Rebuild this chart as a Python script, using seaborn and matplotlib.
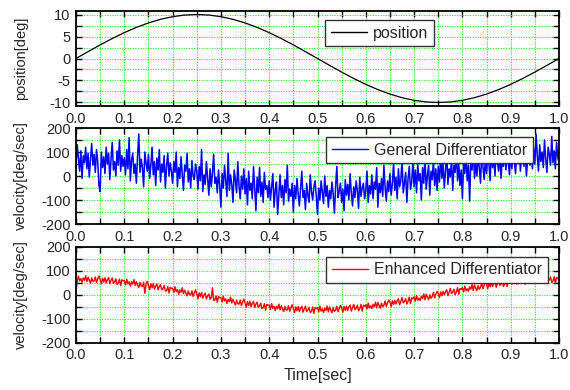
import numpy as np
import pandas as pd
import matplotlib
matplotlib.use("Agg")
import matplotlib.pyplot as plt
from matplotlib.ticker import MultipleLocator
import seaborn as sns

# ---------------- data ----------------
position_deg = [0.0, 1.56, 3.09, 4.54, 5.88, 7.07, 8.09, 8.91, 9.51, 9.88, 10.0,
                9.88, 9.51, 8.91, 8.09, 7.07, 5.88, 4.54, 3.09, 1.56, 0.0,
                -1.56, -3.09, -4.54, -5.88, -7.07, -8.09, -8.91, -9.51, -9.88, -10.0,
                -9.88, -9.51, -8.91, -8.09, -7.07, -5.88, -4.54, -3.09, -1.56, 0.0]

general_vel = [
    40, 130, 75, 20, 105, -10, 85, 55, 120, 30, 95, -5, 70, 135, 45, 90, 15, 110, 60, -40,
    -65, 100, 35, 80, 10, 120, 50, 95, -15, 70, 140, 25, 60, 0, 105, 45, 150, 20, 85, 40,
    75, 5, 110, 30, 160, -20, 65, 95, 10, 50, -30, 85, 175, 15, 70, 35, -45, 100, 55, 20,
    90, -10, 45, 120, 5, 60, -40, 75, 25, 110, -25, 50, 15, 85, -50, 40, 95, 0, 55, 20,
    -30, 60, 15, 100, -45, 35, -10, 80, 5, -60, 45, 20, 95, -25, 30, -50, 65, 0, -15, 50,
    20, -55, 40, -20, 110, -65, 5, -35, 60, -10, -80, 30, -45, 15, 90, -30, -5, -70, 25, -40,
    -130, 10, -50, 45, -20, -85, 95, -60, 5, -35, -110, 25, -15, -70, 60, -40, -95, 0, -55, 30,
    -75, -10, -120, 20, -60, -30, -95, 40, -50, -145, -5, -70, 35, -85, -25, -110, 15, -55, -40, -90,
    -20, -100, -45, 10, -130, -60, -25, -160, -75, 5, -90, -40, -120, -15, -70, 45, -105, -55, -85, -30,
    -150, -40, -95, -10, -75, -125, -50, 20, -90, -60, -140, -30, -80, -110, 5, -65, -100, -45, -20, -85,
    -160, -50, -100, -20, -70, -115, 0, -85, -40, -130, -60, -95, -25, -75, -155, -45, 40, -90, -65, -30,
    -110, -55, -145, -15, -80, -35, -100, 10, -70, -125, -45, -90, -20, -60, -135, -5, -85, -50, -30, -95,
    -60, 20, -110, -40, -75, 5, -95, -25, -55, 35, -130, -30, -70, -10, -85, 45, -50, -105, -20, -65,
    10, -80, -35, 55, -60, -5, -95, 30, -45, -20, 70, -70, -30, 15, -110, -10, 40, -55, -25, 60,
    -45, 25, -70, 50, -20, 10, -100, 35, -30, 80, -55, 0, 45, -80, 20, -15, 65, -40, 30, -60,
    40, -25, 85, -10, 55, -50, 20, 100, -35, 30, -5, 70, -60, 45, 15, 110, -20, 50, -40, 25,
    -95, 60, 10, 95, -20, 45, -105, 75, 25, 120, -10, 55, 0, 85, 35, -30, 105, 40, -15, 70,
    10, 90, 50, -20, 115, 35, 75, 0, 130, 60, 20, 95, -10, 70, 40, 120, 25, 85, 55, 5,
    100, 30, 140, 65, 10, 95, 50, 125, 20, 80, 155, 40, 105, 0, 70, 135, 45, 90, 30, 115,
    50, 175, 85, 20, 130, 60, 100, 35, 150, 70, 15, 120, 90, 45, 165, 55, 105, 30, 140, 75,
    60]

enhanced_vel = [
    10, 53, 77, 57, 66, 51, 69, 59, 78, 54, 72, 59, 48, 69, 54, 56, 73, 50, 65, 77,
    62, 44, 68, 52, 70, 48, 62, 70, 45, 59, 69, 47, 53, 65, 42, 47, 64, 37, 61, 57,
    58, 40, 64, 44, 53, 35, 53, 43, 62, 38, 53, 40, 29, 50, 35, 34, 51, 5, 43, 55,
    38, 20, 44, 28, 46, 22, 36, 44, 19, 33, 41, 19, 25, 37, 14, 16, 33, 6, 30, 26,
    26, 8, 32, 12, 21, 1, 19, 9, 28, 4, 18, 5, -6, 15, 0, -2, 15, -8, 7, 19,
    1, -17, 7, -9, 9, -16, -2, 6, -19, -5, 2, -20, -14, 28, -25, -23, -6, -33, -9, -13,
    -13, -31, -7, -27, -18, -38, -20, -30, -11, -35, -20, -33, -44, -23, -38, -40, -23, -46, -31, -19,
    -36, -54, -30, -46, -28, -51, -37, -29, -54, -40, -32, -54, -48, -36, -59, -55, -38, -65, -41, -45,
    -44, -62, -38, -58, -49, -67, -49, -59, -40, -64, -47, -60, -71, -50, -65, -64, -47, -70, -55, -43,
    -58, -76, -52, -68, -50, -71, -57, -49, -74, -60, -49, -71, -65, -53, -76, -69, -52, -79, -55, -59,
    -55, -73, -49, -69, -60, -75, -57, -67, -48, -72, -52, -65, -76, -55, -70, -66, -49, -72, -57, -45,
    -56, -74, -50, -66, -48, -66, -52, -44, -69, -55, -41, -63, -57, -45, -68, -59, -42, -69, -45, -49,
    -42, -60, -36, -56, -47, -59, -41, -51, -32, -56, -33, -46, -57, -36, -51, -44, -27, -50, -35, -23,
    -32, -50, -26, -42, -24, -40, -26, -18, -43, -29, -13, -35, -29, -17, -40, -28, -11, -38, -14, -18,
    -10, -28, -4, -24, -15, -25, -7, -17, 2, -22, 2, -11, -22, -1, -16, -8, 9, -14, 1, 13,
    5, -13, 11, -5, 13, -2, 12, 20, -5, 9, 26, 4, 10, 22, -1, 11, 28, 1, 25, 21,
    29, 11, 35, 15, 24, 14, 32, 22, 41, 17, 40, 27, 16, 37, 22, 30, 47, 24, 39, 51,
    42, 24, 48, 32, 50, 33, 47, 55, 30, 44, 60, 38, 44, 56, 33, 43, 60, 33, 57, 53,
    60, 42, 66, 46, 55, 43, 61, 51, 70, 46, 67, 54, 43, 64, 49, 54, 71, 48, 63, 75,
    64, 46, 70, 54, 72, 53, 67, 75, 50, 64, 77, 55, 61, 73, 50, 57, 74, 47, 71, 67,
    60]

x_ticks = [0.0, 0.1, 0.2, 0.3, 0.4, 0.5, 0.6, 0.7, 0.8, 0.9, 1.0]
pos_ticks = [-10, -5, 0, 5, 10]
vel_ticks = [-200, -100, 0, 100, 200]
labels = ["position", "General Differentiator", "Enhanced Differentiator"]

df_pos = pd.DataFrame({"t": np.linspace(0, 1, len(position_deg)), "v": position_deg})
df_gen = pd.DataFrame({"t": np.linspace(0, 1, len(general_vel)), "v": general_vel})
df_enh = pd.DataFrame({"t": np.linspace(0, 1, len(enhanced_vel)), "v": enhanced_vel})

# ---------------- style ----------------
sns.set_theme(style="ticks")
plt.rcParams["font.family"] = ["Liberation Sans", "DejaVu Sans"]

fig = plt.figure(figsize=(5.7, 3.9), dpi=100)
L, W = 76 / 570, 483 / 570
axes = [fig.add_axes([L, (390 - 106) / 390, W, 95 / 390]),
        fig.add_axes([L, (390 - 224) / 390, W, 96 / 390]),
        fig.add_axes([L, (390 - 342.5) / 390, W, 96 / 390])]

specs = [
    (df_pos, "black", 0.9, labels[0], "position[deg]", (-10.8, 10.8), pos_ticks, 2.5, (0.741, 0.905)),
    (df_gen, "#0000ff", 1.1, labels[1], "velocity[deg/sec]", (-200, 200), vel_ticks, 50, (0.946, 0.906)),
    (df_enh, "#ff0000", 1.0, labels[2], "velocity[deg/sec]", (-200, 200), vel_ticks, 50, (0.977, 0.895)),
]

grid_kw = dict(color="#22ee22", linestyle=(0, (1, 1.3)), linewidth=0.8)

for ax, (df, col, lw, lab, ylab, ylim, yt, yminor, anchor) in zip(axes, specs):
    sns.lineplot(data=df, x="t", y="v", ax=ax, color=col, linewidth=lw,
                 label=lab, estimator=None, sort=False)
    ax.set_xlim(0, 1)
    ax.set_ylim(*ylim)
    ax.set_xticks(x_ticks)
    ax.set_xticklabels([f"{v:.1f}" for v in x_ticks])
    ax.set_yticks(yt)
    ax.set_yticklabels([str(v) for v in yt])
    ax.xaxis.set_minor_locator(MultipleLocator(0.05))
    ax.yaxis.set_minor_locator(MultipleLocator(yminor))
    ax.grid(True, which="both", **grid_kw)
    ax.set_axisbelow(True)
    ax.tick_params(which="both", direction="in", top=True, right=True,
                   length=4, width=1.0, color="black")
    ax.tick_params(axis="x", labelsize=10.5, pad=4)
    ax.tick_params(axis="y", labelsize=10.5, pad=4)
    for sp in ax.spines.values():
        sp.set_linewidth(1.3)
        sp.set_color("black")
    ax.set_xlabel("")
    ax.set_ylabel(ylab, fontsize=10.5)
    ax.yaxis.set_label_coords(-0.1, 0.5)
    leg = ax.legend(loc="upper right", bbox_to_anchor=anchor, borderaxespad=0,
                    fontsize=11.5, handlelength=2.25, handletextpad=0.4,
                    borderpad=0.35, fancybox=False, framealpha=1, edgecolor="#333333")
    leg.get_frame().set_linewidth(1.0)
    for h in leg.get_lines():
        h.set_linewidth(1.0)

axes[2].set_xlabel("Time[sec]", fontsize=11.5, labelpad=4)

fig.savefig("out.png", dpi=100)
